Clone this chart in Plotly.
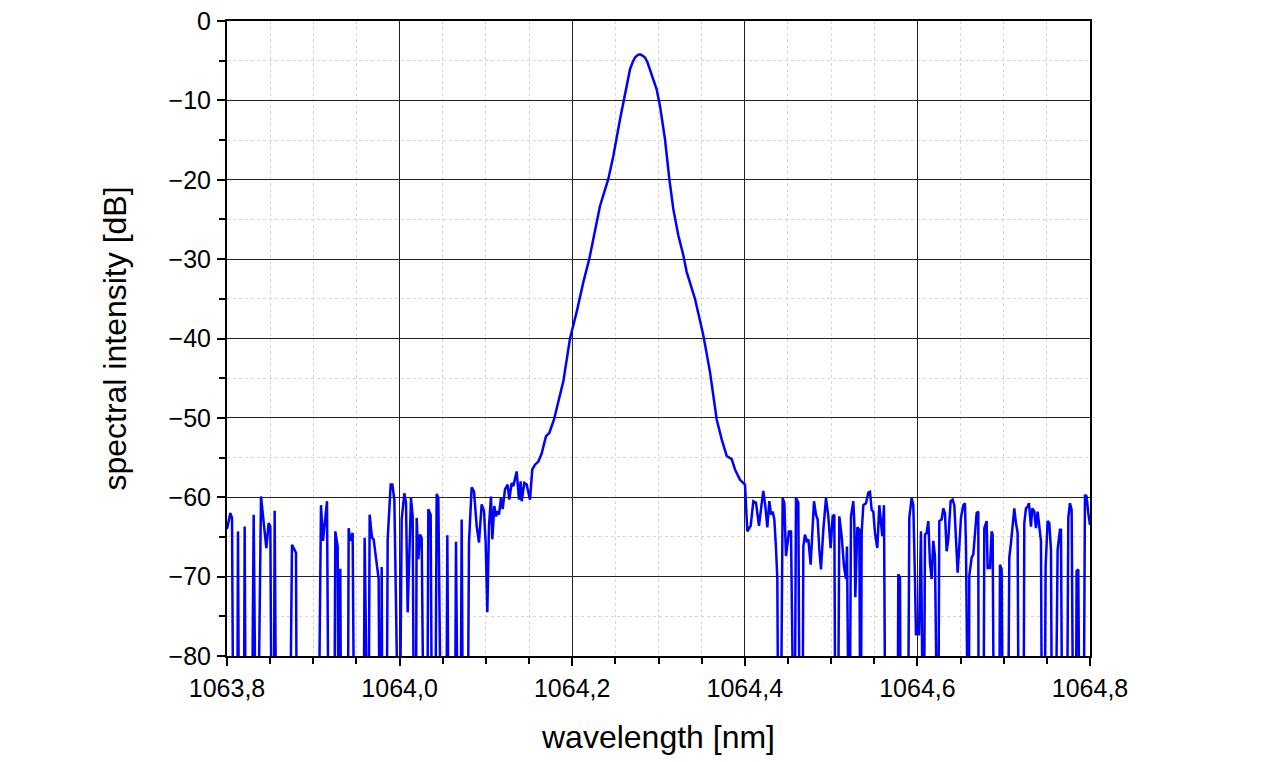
import plotly.graph_objects as go

# ---- data (wavelength in nm, intensity in dB; -100 = below display floor) ----
left_noise = [
    (1063.80000, -64.0), (1063.80387, -62.0), (1063.80580, -62.6), (1063.80773, -100),
    (1063.81159, -100), (1063.81275, -64.3), (1063.81429, -100), (1063.81931, -100),
    (1063.82047, -63.7), (1063.82202, -100), (1063.82820, -100), (1063.83090, -62.2),
    (1063.83399, -100), (1063.83515, -100), (1063.83940, -59.9), (1063.84249, -63.25),
    (1063.84558, -66.4), (1063.84828, -63.25), (1063.85021, -63.7), (1063.85214, -100),
    (1063.85407, -100), (1063.85523, -61.7), (1063.85755, -100), (1063.87222, -100),
    (1063.87531, -66.0), (1063.87995, -67.0), (1063.88111, -100), (1063.90544, -100),
    (1063.90891, -61.0), (1063.91123, -65.5), (1063.91586, -60.5), (1063.91818, -100),
    (1063.92397, -100), (1063.92552, -64.3), (1063.92822, -66.2), (1063.92938, -100),
    (1063.93054, -100), (1063.93131, -69.0), (1063.93247, -100), (1063.93981, -100),
    (1063.94097, -63.9), (1063.94290, -65.5), (1063.94560, -64.5), (1063.94792, -100),
    (1063.95796, -100), (1063.95950, -65.1), (1063.96144, -100), (1063.96375, -100),
    (1063.96530, -62.2), (1063.96800, -65.1), (1063.96993, -65.3), (1063.97263, -67.8),
    (1063.97572, -70.3), (1063.97729, -100), (1063.97845, -100), (1063.97922, -68.8),
    (1063.98038, -100), (1063.98463, -100), (1063.98618, -65.3), (1063.98965, -58.4),
    (1063.99158, -58.4), (1063.99390, -60.3), (1063.99892, -100), (1063.99969, -100),
    (1064.00240, -62.8), (1064.00549, -59.5), (1064.00742, -60.7), (1064.00935, -74.5),
    (1064.01321, -60.1), (1064.01514, -62.4), (1064.01707, -100), (1064.01862, -100),
    (1064.01978, -62.6), (1064.02171, -67.8), (1064.02364, -64.7), (1064.02557, -65.1),
    (1064.02866, -100), (1064.03175, -100), (1064.03329, -61.5), (1064.03600, -62.2),
    (1064.03793, -100), (1064.04102, -100), (1064.04295, -59.6), (1064.04488, -60.1),
    (1064.04874, -100), (1064.05376, -100), (1064.05531, -64.8), (1064.05724, -100),
    (1064.06380, -100), (1064.06535, -65.6), (1064.06805, -100), (1064.07037, -100),
    (1064.07191, -62.8), (1064.07384, -100), (1064.07848, -100), (1064.08041, -65.7),
    (1064.08350, -58.75), (1064.08620, -59.25), (1064.08929, -63.6), (1064.09199, -65.7),
    (1064.09508, -60.9), (1064.09779, -61.75), (1064.09972, -65.7), (1064.10165, -74.5),
    (1064.10358, -63.6), (1064.10590, -59.9), (1064.10744, -65.3), (1064.10976, -61.1),
    (1064.11169, -62.4), (1064.11362, -61.75), (1064.11516, -62.2), (1064.11748, -60.1),
    (1064.11941, -61.5), (1064.12212, -59.0), (1064.12521, -58.4), (1064.12714, -60.3),
    (1064.12984, -58.2), (1064.13177, -58.6), (1064.13564, -56.75), (1064.13834, -60.3),
    (1064.14027, -58.0), (1064.14143, -60.5), (1064.14452, -58.2), (1064.14722, -58.4),
    (1064.15108, -60.3),
]

peak = [
    (1064.15379, -56.5), (1064.15688, -55.9), (1064.16074, -55.5), (1064.16460, -54.5),
    (1064.16964, -52.3), (1064.17347, -51.9), (1064.17891, -50.2), (1064.18972, -45.4),
    (1064.19745, -40.0), (1064.20517, -36.65), (1064.21290, -32.9), (1064.21985, -29.96),
    (1064.22448, -27.4), (1064.23221, -23.3), (1064.24186, -19.9), (1064.24766, -17.0),
    (1064.25538, -12.4), (1064.26117, -9.0), (1064.26696, -6.1), (1064.27000, -5.2),
    (1064.27276, -4.6), (1064.27570, -4.3), (1064.27855, -4.2), (1064.28140, -4.35),
    (1064.28434, -4.6), (1064.28720, -5.2), (1064.29014, -6.1), (1064.29786, -8.6),
    (1064.30172, -10.7), (1064.30752, -14.9), (1064.31254, -19.9), (1064.31717, -23.7),
    (1064.32296, -27.0), (1064.32876, -29.5), (1064.33262, -31.6), (1064.34227, -35.0),
    (1064.35193, -39.6), (1064.35965, -44.2), (1064.36744, -50.2), (1064.37323, -52.7),
    (1064.37903, -54.8), (1064.38482, -55.2), (1064.38864, -56.5), (1064.39444, -57.8),
    (1064.40023, -58.4),
]

right_noise = [
    (1064.40294, -64.3), (1064.40680, -63.6), (1064.40989, -60.5), (1064.41298, -60.7),
    (1064.41645, -63.6), (1064.41877, -61.5), (1064.42147, -59.2), (1064.42379, -61.1),
    (1064.42611, -63.8), (1064.42843, -60.5), (1064.43036, -62.2), (1064.43229, -61.8),
    (1064.43422, -62.8), (1064.43615, -66.4), (1064.43769, -70.3), (1064.43924, -100),
    (1064.44117, -100), (1064.44387, -60.1), (1064.44580, -60.7), (1064.44773, -67.4),
    (1064.45121, -64.3), (1064.45353, -64.3), (1064.45507, -100), (1064.45739, -100),
    (1064.45932, -60.1), (1064.46203, -60.7), (1064.46396, -100), (1064.46666, -100),
    (1064.46782, -66.2), (1064.46975, -64.7), (1064.47168, -65.5), (1064.47361, -65.3),
    (1064.47631, -68.5), (1064.47824, -65.1), (1064.48018, -60.5), (1064.48249, -62.2),
    (1064.48442, -62.8), (1064.48635, -66.6), (1064.48829, -69.1), (1064.49099, -64.1),
    (1064.49408, -60.1), (1064.49678, -62.4), (1064.49949, -66.4), (1064.50180, -62.4),
    (1064.50373, -62.2), (1064.50528, -100), (1064.50760, -100), (1064.50953, -62.4),
    (1064.51223, -64.9), (1064.51493, -68.7), (1064.51725, -70.3), (1064.51841, -66.2),
    (1064.51996, -100), (1064.52111, -100), (1064.52304, -62.4), (1064.52575, -60.5),
    (1064.52690, -63.2), (1064.52806, -72.6), (1064.53038, -63.8), (1064.53270, -64.1),
    (1064.53424, -100), (1064.53540, -64.5), (1064.53733, -61.0), (1064.54042, -60.75),
    (1064.54313, -59.4), (1064.54506, -59.3), (1064.54699, -61.6), (1064.54892, -61.8),
    (1064.55085, -64.5), (1064.55355, -66.4), (1064.55587, -61.0), (1064.55741, -62.4),
    (1064.55934, -64.9), (1064.56128, -61.0), (1064.56321, -100), (1064.57672, -100),
    (1064.57788, -69.7), (1064.57981, -70.1), (1064.58097, -100), (1064.58869, -100),
    (1064.59062, -62.6), (1064.59333, -60.1), (1064.59526, -61.0), (1064.59719, -70.3),
    (1064.59835, -77.4), (1064.60028, -76.2), (1064.60181, -77.4), (1064.60413, -64.3),
    (1064.60606, -100), (1064.60722, -100), (1064.60878, -64.7), (1064.61071, -64.5),
    (1064.61264, -63.0), (1064.61457, -68.25), (1064.61650, -70.3), (1064.61843, -65.5),
    (1064.62036, -67.4), (1064.62229, -100), (1064.62384, -100), (1064.62539, -63.0),
    (1064.62809, -62.8), (1064.63002, -61.4), (1064.63195, -62.0), (1064.63388, -66.8),
    (1064.63581, -65.3), (1064.63852, -60.5), (1064.64083, -60.3), (1064.64276, -61.0),
    (1064.64470, -65.3), (1064.64663, -69.5), (1064.64856, -66.2), (1064.65049, -62.6),
    (1064.65319, -61.0), (1064.65512, -60.75), (1064.65628, -66.2), (1064.65783, -100),
    (1064.65937, -100), (1064.66014, -69.9), (1064.66285, -67.6), (1064.66478, -67.2),
    (1064.66671, -64.1), (1064.66864, -62.0), (1064.67057, -61.8), (1064.67100, -100),
    (1064.67637, -100), (1064.67752, -63.9), (1064.68023, -63.0), (1064.68139, -68.9),
    (1064.68409, -68.9), (1064.68602, -64.3), (1064.68718, -64.7), (1064.68911, -100),
    (1064.69452, -100), (1064.69568, -68.5), (1064.69761, -69.1), (1064.69954, -100),
    (1064.70456, -100), (1064.70649, -67.6), (1064.70842, -65.75), (1064.70996, -64.1),
    (1064.71228, -61.4), (1064.71421, -63.25), (1064.71614, -64.5), (1064.71769, -100),
    (1064.72271, -100), (1064.72387, -63.25), (1064.72580, -61.4), (1064.72773, -61.2),
    (1064.72927, -60.75), (1064.73159, -63.7), (1064.73313, -61.4), (1064.73545, -61.8),
    (1064.73738, -63.9), (1064.73931, -61.8), (1064.74125, -63.5), (1064.74318, -65.5),
    (1064.74472, -100), (1064.74704, -100), (1064.74858, -68.7), (1064.75090, -63.0),
    (1064.75283, -63.25), (1064.75476, -66.6), (1064.75631, -100), (1064.75940, -100),
    (1064.76249, -66.6), (1064.76519, -64.1), (1064.76635, -64.1), (1064.76828, -100),
    (1064.77292, -100), (1064.77485, -62.6), (1064.77678, -60.75), (1064.77871, -61.6),
    (1064.78103, -100), (1064.78334, -100), (1064.78450, -69.3), (1064.78643, -69.1),
    (1064.78836, -100), (1064.79223, -100), (1064.79416, -59.7), (1064.79609, -59.9),
    (1064.79802, -62.0), (1064.80000, -63.5),
]

x_ticks = [1063.8, 1064.0, 1064.2, 1064.4, 1064.6, 1064.8]
y_ticks = [0, -10, -20, -30, -40, -50, -60, -70, -80]

pts = left_noise + peak + right_noise
wl = [p[0] for p in pts]
db = [p[1] for p in pts]

fig = go.Figure()
fig.add_trace(go.Scatter(x=wl, y=db, mode="lines",
                         line=dict(color="#0000FF", width=2.5), hoverinfo="x+y"))

axis_common = dict(
    showline=True, linewidth=2, linecolor="black", mirror=True,
    ticks="outside", ticklen=8, tickwidth=2, tickcolor="black",
    showgrid=True, gridcolor="#222222", gridwidth=1, zeroline=False,
    tickfont=dict(size=25, color="black"),
    ticklabeloverflow="allow",
)

fig.update_layout(
    width=1258, height=754,
    margin=dict(l=219, r=176, t=13, b=106),
    paper_bgcolor="white", plot_bgcolor="white",
    separators=",.",
    showlegend=False,
    font=dict(family="Arial, Liberation Sans, sans-serif", size=25, color="black"),
)
fig.update_xaxes(
    **axis_common,
    range=[1063.8, 1064.8], tickmode="array", tickvals=x_ticks,
    tickformat=".1f", ticklabelstandoff=1,
    minor=dict(tick0=1063.8, dtick=0.05, ticks="outside", ticklen=6, tickwidth=2,
               tickcolor="black", showgrid=True, gridcolor="#d6d6d6",
               griddash="dot", gridwidth=1),
    title=dict(text="wavelength [nm]", font=dict(size=32), standoff=25),
    automargin=False,
)
fig.update_yaxes(
    **axis_common,
    range=[-80, 0], tickmode="array", tickvals=y_ticks, ticklabelstandoff=1,
    minor=dict(tick0=0, dtick=5, ticks="outside", ticklen=6, tickwidth=2,
               tickcolor="black", showgrid=True, gridcolor="#d6d6d6",
               griddash="dot", gridwidth=1),
    title=dict(text="spectral intensity [dB]", font=dict(size=32), standoff=32),
    automargin=False,
)

fig.write_html("out.html")
